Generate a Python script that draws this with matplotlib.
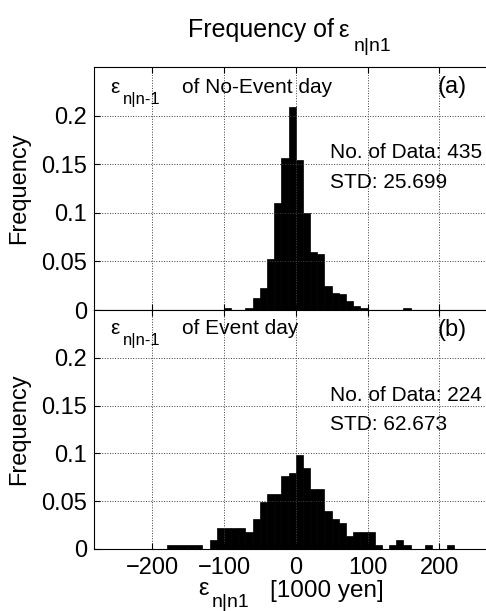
import numpy as np
import matplotlib
matplotlib.use("Agg")
import matplotlib.pyplot as plt
from matplotlib.transforms import offset_copy

plt.rcParams['font.family'] = ['Liberation Sans', 'DejaVu Sans']

# bin left edges (width 10) and frequencies
bin_width = 10
edges_a = [-100, -90, -80, -70, -60, -50, -40, -30, -20, -10,
           0, 10, 20, 30, 40, 50, 60, 70, 80, 90, 150]
freq_a = [0.0023, 0, 0, 0.0023, 0.012, 0.023, 0.052, 0.110, 0.156, 0.209,
          0.154, 0.100, 0.060, 0.058, 0.025, 0.018, 0.016, 0.009, 0.0046, 0.0023, 0.0023]

edges_b = [-180, -170, -160, -150, -140, -130, -120, -110, -100, -90, -80,
           -70, -60, -50, -40, -30, -20, -10, 0, 10, 20, 30, 40, 50, 60,
           70, 80, 90, 100, 110, 120, 130, 140, 150, 180, 210]
freq_b = [0.0045, 0.0045, 0.0045, 0.0045, 0.0045, 0, 0.0089, 0.0223, 0.0223, 0.0223, 0.0223,
          0.0179, 0.0313, 0.049, 0.058, 0.058, 0.0759, 0.080, 0.098, 0.0848, 0.0625, 0.0625,
          0.040, 0.0313, 0.0268, 0.0134, 0.0179, 0.0179, 0.0179, 0.0045, 0, 0.0045, 0.0089,
          0.0045, 0.0045, 0.0045]

xticks = [-200, -100, 0, 100, 200]
xtick_labels = ['\u2212200', '\u2212100', '0', '100', '200']
yticks = [0, 0.05, 0.1, 0.15, 0.2]
ytick_labels = ['0', '0.05', '0.1', '0.15', '0.2']

fs = 15
big = 17

fig = plt.figure(figsize=(4.86, 6.11), dpi=100)
ax1 = fig.add_axes([0.1934, 0.4926, 0.8066, 0.3977])
ax2 = fig.add_axes([0.1934, 0.1015, 0.8066, 0.3911])


def eps(x, y, sub, transform, size=fs, subsize=12, dx=9, dy=-8):
    # epsilon with a MATLAB-like dropped subscript
    fig.text(x, y, '\u03b5', fontsize=size, transform=transform, va='baseline')
    t = offset_copy(transform, fig=fig, x=dx, y=dy, units='points')
    fig.text(x, y, sub, fontsize=subsize, transform=t, va='baseline')


def style(ax):
    ax.set_xlim(-281, 265)
    ax.set_ylim(0, 0.25)
    ax.set_xticks(xticks)
    ax.set_yticks(yticks)
    ax.set_yticklabels(ytick_labels)
    ax.grid(True, linestyle=':', color='0.25', linewidth=0.7)
    ax.set_axisbelow(False)
    ax.tick_params(direction='in', top=True, labelsize=big, length=4)
    ax.tick_params(axis='x', pad=6)
    ax.tick_params(axis='y', pad=5)
    ax.spines['right'].set_visible(False)
    ax.set_ylabel('Frequency', fontsize=big, labelpad=8)


for ax, e, f in [(ax1, edges_a, freq_a), (ax2, edges_b, freq_b)]:
    ax.bar(e, f, width=bin_width, align='edge', color='black', edgecolor='black', linewidth=0.5)
    style(ax)

ax1.tick_params(labelbottom=False)
ax2.set_xticklabels(xtick_labels)

# annotations
eps(-258, 0.223, 'n|n-1', ax1.transData)
ax1.text(-158, 0.223, 'of No-Event day', fontsize=fs, va='baseline')
ax1.text(198, 0.223, '(a)', fontsize=big, va='baseline')
ax1.text(48, 0.156, 'No. of Data: 435', fontsize=fs, va='baseline')
ax1.text(48, 0.1255, 'STD: 25.699', fontsize=fs, va='baseline')

eps(-258, 0.225, 'n|n-1', ax2.transData)
ax2.text(-158, 0.225, 'of Event day', fontsize=fs, va='baseline')
ax2.text(198, 0.223, '(b)', fontsize=big, va='baseline')
ax2.text(48, 0.155, 'No. of Data: 224', fontsize=fs, va='baseline')
ax2.text(48, 0.1245, 'STD: 62.673', fontsize=fs, va='baseline')

# x label
eps(0.408, 0.027, 'n|n1', fig.transFigure, size=big, subsize=14, dx=9.5, dy=-9)
fig.text(0.555, 0.023, '[1000 yen]', fontsize=big + 0.5, va='baseline')

# title
fig.text(0.387, 0.9395, 'Frequency of', fontsize=18, va='baseline')
eps(0.697, 0.9395, 'n|n1', fig.transFigure, size=big, subsize=14, dx=11, dy=-10)

fig.savefig('out.png', dpi=100)
